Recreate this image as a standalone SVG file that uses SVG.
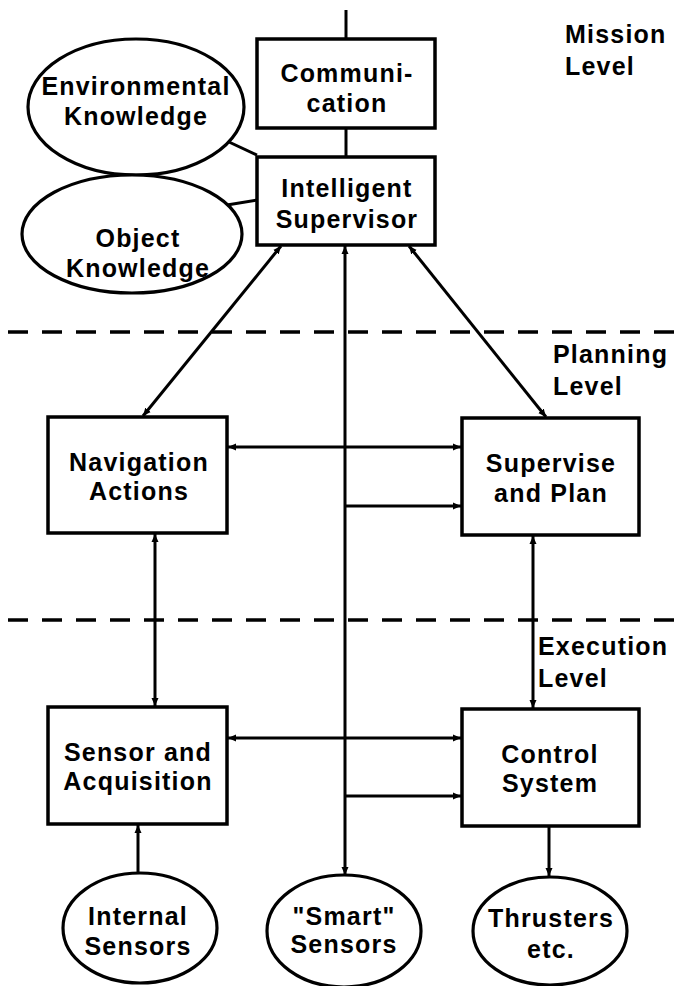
<svg xmlns="http://www.w3.org/2000/svg" width="677" height="986" viewBox="0 0 677 986">
  <style>
    .box { fill: #ffffff; stroke: #000000; stroke-width: 3.5; }
    .oval { fill: #ffffff; stroke: #000000; stroke-width: 3.2; }
    .wire { fill: none; stroke: #000000; stroke-width: 3; }
    .level { fill: none; stroke: #000000; stroke-width: 3.5; stroke-dasharray: 20 14; }
    text { font-family: "Liberation Sans", Arial, sans-serif; font-weight: bold; font-size: 25px; letter-spacing: 1.2px; fill: #000000; }
    .c { text-anchor: middle; }
  </style>
  <defs>
    <marker id="tip" markerUnits="userSpaceOnUse" markerWidth="9" markerHeight="8" refX="8" refY="4" orient="auto-start-reverse">
      <path d="M0,0.5 L8,4 L0,7.5 z" fill="#000000"/>
    </marker>
  </defs>

  <!-- level separators -->
  <g id="levels">
    <line class="level" x1="8" y1="332" x2="677" y2="332"/>
    <line class="level" x1="8" y1="620" x2="677" y2="620"/>
  </g>

  <!-- connectors -->
  <g id="connectors">
    <line class="wire" x1="346" y1="10" x2="346" y2="39"/>
    <line class="wire" x1="346" y1="128" x2="346" y2="157"/>
    <line class="wire" x1="229" y1="142" x2="257" y2="155"/>
    <line class="wire" x1="227" y1="205" x2="257" y2="200"/>
    <line class="wire" x1="281" y1="246" x2="143" y2="416" marker-start="url(#tip)" marker-end="url(#tip)"/>
    <line class="wire" x1="409" y1="246" x2="546" y2="417" marker-start="url(#tip)" marker-end="url(#tip)"/>
    <line class="wire" x1="345" y1="246" x2="345" y2="875" marker-start="url(#tip)" marker-end="url(#tip)"/>
    <line class="wire" x1="228" y1="447" x2="461" y2="447" marker-start="url(#tip)" marker-end="url(#tip)"/>
    <line class="wire" x1="345" y1="506" x2="461" y2="506" marker-end="url(#tip)"/>
    <line class="wire" x1="155" y1="534" x2="155" y2="706" marker-start="url(#tip)" marker-end="url(#tip)"/>
    <line class="wire" x1="533" y1="536" x2="533" y2="708" marker-start="url(#tip)" marker-end="url(#tip)"/>
    <line class="wire" x1="228" y1="738" x2="461" y2="738" marker-start="url(#tip)" marker-end="url(#tip)"/>
    <line class="wire" x1="345" y1="796" x2="461" y2="796" marker-end="url(#tip)"/>
    <line class="wire" x1="138" y1="825" x2="138" y2="873" marker-start="url(#tip)"/>
    <line class="wire" x1="549" y1="827" x2="549" y2="876" marker-end="url(#tip)"/>
  </g>

  <!-- mission level -->
  <g id="communication">
    <rect class="box" x="257" y="39" width="178" height="89"/>
    <text class="c" x="347" y="82">Communi-</text>
    <text class="c" x="347" y="112">cation</text>
  </g>
  <g id="environmental-knowledge">
    <ellipse class="oval" cx="136" cy="107" rx="108" ry="68"/>
    <text class="c" x="136" y="95">Environmental</text>
    <text class="c" x="136" y="125">Knowledge</text>
  </g>
  <g id="intelligent-supervisor">
    <rect class="box" x="257" y="157" width="178" height="88"/>
    <text class="c" x="347" y="197">Intelligent</text>
    <text class="c" x="347" y="228">Supervisor</text>
  </g>
  <g id="object-knowledge">
    <ellipse class="oval" cx="132" cy="234" rx="110" ry="59"/>
    <text class="c" x="138" y="247">Object</text>
    <text class="c" x="138" y="277">Knowledge</text>
  </g>
  <g id="mission-label">
    <text x="565" y="43">Mission</text>
    <text x="565" y="75">Level</text>
  </g>

  <!-- planning level -->
  <g id="planning-label">
    <text x="553" y="363">Planning</text>
    <text x="553" y="395">Level</text>
  </g>
  <g id="navigation-actions">
    <rect class="box" x="48" y="417" width="179" height="116"/>
    <text class="c" x="139" y="471">Navigation</text>
    <text class="c" x="139" y="500">Actions</text>
  </g>
  <g id="supervise-and-plan">
    <rect class="box" x="462" y="418" width="177" height="117"/>
    <text class="c" x="551" y="472">Supervise</text>
    <text class="c" x="551" y="502">and Plan</text>
  </g>

  <!-- execution level -->
  <g id="execution-label">
    <text x="538" y="655">Execution</text>
    <text x="538" y="687">Level</text>
  </g>
  <g id="sensor-and-acquisition">
    <rect class="box" x="48" y="707" width="179" height="117"/>
    <text class="c" x="138" y="761">Sensor and</text>
    <text class="c" x="138" y="790">Acquisition</text>
  </g>
  <g id="control-system">
    <rect class="box" x="462" y="709" width="177" height="117"/>
    <text class="c" x="550" y="763">Control</text>
    <text class="c" x="550" y="792">System</text>
  </g>
  <g id="internal-sensors">
    <ellipse class="oval" cx="140" cy="928" rx="77" ry="55"/>
    <text class="c" x="138" y="925">Internal</text>
    <text class="c" x="138" y="955">Sensors</text>
  </g>
  <g id="smart-sensors">
    <ellipse class="oval" cx="344" cy="931" rx="77" ry="56"/>
    <text class="c" x="344" y="925">"Smart"</text>
    <text class="c" x="344" y="953">Sensors</text>
  </g>
  <g id="thrusters">
    <ellipse class="oval" cx="550" cy="931" rx="77" ry="54"/>
    <text class="c" x="551" y="927">Thrusters</text>
    <text class="c" x="551" y="958">etc.</text>
  </g>
</svg>
